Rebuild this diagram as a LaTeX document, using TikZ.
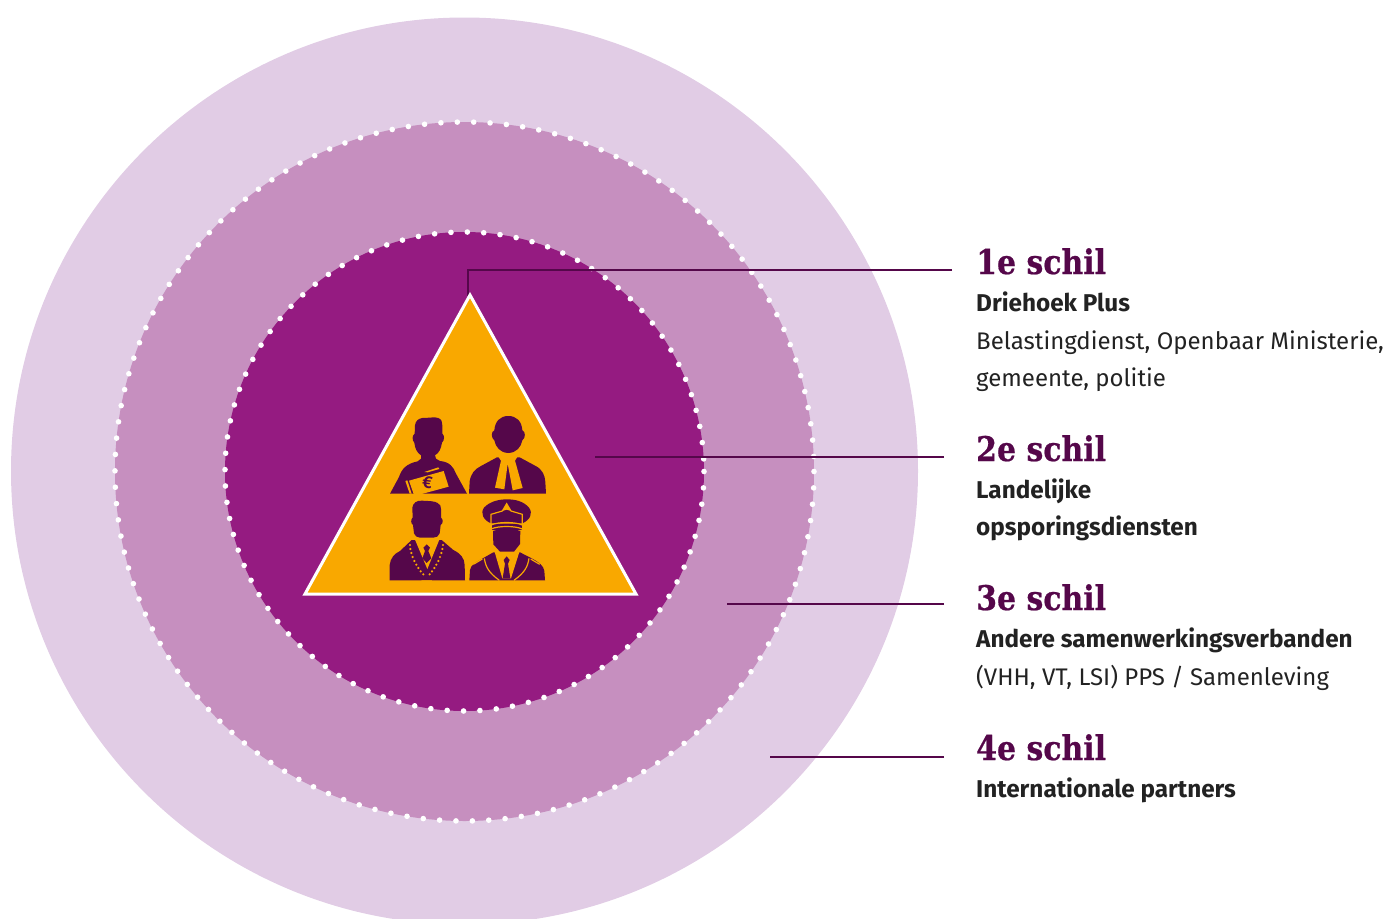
\documentclass[tikz,border=0pt]{standalone}
\usepackage{fontspec}
\setmainfont{Fira Sans}
\newfontfamily\titlefont[FakeStretch=0.88,BoldFont={DejaVu Serif Bold},BoldFeatures={FakeStretch=0.88,FakeBold=0.6}]{DejaVu Serif}
\definecolor{shellA}{HTML}{951B81}
\definecolor{shellB}{HTML}{C68FBF}
\definecolor{shellC}{HTML}{E1CCE5}
\definecolor{tri}{HTML}{F9A800}
\definecolor{ink}{HTML}{55074A}
\definecolor{bodytxt}{HTML}{222222}
\tikzset{
  shelltitle/.style={anchor=base west,inner sep=0pt,text=ink,font=\titlefont\bfseries\fontsize{34}{34}\selectfont},
  strong/.style={anchor=base west,inner sep=0pt,text=bodytxt,font=\fontsize{24.3}{24.3}\selectfont\bfseries},
  plain/.style={anchor=base west,inner sep=0pt,text=bodytxt,font=\fontsize{24}{24}\selectfont},
  leader/.style={draw=ink,line width=1.8pt},
  dotring/.style={draw=white,line width=5.6pt,line cap=round,dash pattern=on 0pt off 16.4pt},
  crop/.style={x=0.33333pt,y=-0.33333pt},
  trim/.style={draw=tri,line width=1.2pt},
}
\begin{document}
\begin{tikzpicture}[x=1pt,y=-1pt]
\useasboundingbox (0,0) rectangle (1386,918);
\begin{scope}
\clip (0,0) rectangle (1386,918);
\fill[shellC] (464.5,471) circle[radius=453.5];
\end{scope}
\fill[shellB] (464.5,471.5) circle[radius=349.5];
\draw[dotring] (464.5,471.5) circle[radius=349.5];
\fill[shellA] (464.5,471.5) circle[radius=239.5];
\draw[dotring] (464.5,471.5) circle[radius=239.5];
\node[shelltitle] (t1) at (976,274) {1e schil};
\node[strong] (s1) at (976,311) {Driehoek Plus};
\node[plain] (p1a) at (976,349) {Belastingdienst, Openbaar Ministerie,};
\node[plain] (p1b) at (976,386) {gemeente, politie};
\node[shelltitle] (t2) at (976,461) {2e schil};
\node[strong] (s2a) at (976,498) {Landelijke};
\node[strong] (s2b) at (976,535) {opsporingsdiensten};
\node[shelltitle] (t3) at (976,610) {3e schil};
\node[strong] (s3) at (976,647) {Andere samenwerkingsverbanden};
\node[plain] (p3) at (976,685) {(VHH, VT, LSI) PPS / Samenleving};
\node[shelltitle] (t4) at (976,760) {4e schil};
\node[strong] (s4) at (976,797) {Internationale partners};
\coordinate (a1) at (952,270);
\coordinate (b1) at (468,270);
\coordinate (c1) at (468,296);
\coordinate (a2) at (944,457);
\coordinate (b2) at (595,457);
\coordinate (a3) at (944,604);
\coordinate (b3) at (727,604);
\coordinate (a4) at (944,757);
\coordinate (b4) at (770,757);
\draw[leader] (a1) -- (b1) -- (c1);
\draw[leader] (a2) -- (b2);
\draw[leader] (a3) -- (b3);
\draw[leader] (a4) -- (b4);
\draw[fill=tri,draw=white,line width=3pt,line join=miter] (470,295) -- (636,594) -- (305,594) -- cycle;
% euro man
\begin{scope}[shift={(385,412)},crop]
\fill[ink] (90,40) .. controls (92,26) and (100,20) .. (112,18) .. controls (130,18) and (150,14) .. (160,18) .. controls (170,22) and (172,30) .. (172,40) -- (172,65) .. controls (179,70) and (179,84) .. (171,92) .. controls (168,110) and (163,122) .. (150,130) -- (153,140) -- (165,147) .. controls (195,150) and (205,165) .. (213,185) -- (246,245) -- (15,245) -- (42,195) .. controls (50,170) and (65,155) .. (98,148) -- (108,140) -- (108,130) .. controls (96,122) and (90,110) .. (88,92) .. controls (81,85) and (81,70) .. (89,65) -- cycle;
\fill[tri] (72,206) -- (176,177) -- (191,224) -- (88,252) -- cycle;
\fill[tri] (118,180) -- (160,166) -- (163,171) -- (128,181) -- cycle;
\fill[tri] (61,207) -- (67,205) -- (80,245) -- (74,245) -- cycle;
\fill[tri] (88,246) -- (120,246) -- (100,252) -- (88,252) -- cycle;
\node[inner sep=0pt,text=ink,rotate=-8,font=\fontsize{17}{17}\selectfont\bfseries] (euro) at (127,211) {€};
\end{scope}
% judge
\begin{scope}[shift={(465,412)},crop]
\fill[ink] (12,245) -- (14,208) .. controls (18,185) and (28,172) .. (48,162) -- (96,136) -- (164,136) -- (212,162) .. controls (232,172) and (240,190) .. (241,210) -- (243,245) -- cycle;
\fill[tri] (95,114) -- (160,114) -- (165,122) -- (150,146) -- (173,228) -- (143,235) -- (128,155) -- (118,232) -- (90,227) -- (108,146) -- (92,122) -- cycle;
\fill[ink] (88,55) .. controls (90,28) and (105,12) .. (130,12) .. controls (155,12) and (170,28) .. (172,55) .. controls (182,58) and (182,78) .. (172,85) .. controls (168,105) and (155,122) .. (130,123) .. controls (105,122) and (92,105) .. (88,85) .. controls (78,78) and (78,58) .. (88,55) -- cycle;
\end{scope}
% mayor
\begin{scope}[shift={(385,495)},crop]
\fill[ink] (82,38) .. controls (84,24) and (95,16) .. (110,17) .. controls (130,18) and (150,18) .. (158,24) .. controls (166,28) and (168,34) .. (168,42) -- (168,68) .. controls (175,72) and (175,86) .. (167,90) -- (164,115) .. controls (160,124) and (155,128) .. (145,128) -- (105,128) .. controls (95,128) and (90,122) .. (87,115) -- (84,90) .. controls (77,86) and (77,72) .. (83,68) -- cycle;
\fill[ink] (14,256) -- (14,210) .. controls (16,190) and (28,176) .. (45,168) -- (80,135) -- (170,135) -- (205,165) .. controls (228,176) and (238,190) .. (239,210) -- (240,256) -- cycle;
\fill[tri] (90,134) -- (163,134) -- (127,222) -- cycle;
\fill[ink] (125,148) -- (135,158) -- (130,168) -- (139,190) -- (125,204) -- (112,190) -- (120,168) -- (115,158) -- cycle;
\foreach \p in {(75,150),(76,162),(79,174),(83,186),(88,198),(94,209),(100,219),(107,229),(115,238),
                (174,150),(172,162),(169,174),(165,186),(160,198),(154,209),(148,219),(141,229),(134,238)}{
  \fill[tri] \p circle[radius=3.6];
}
\fill[tri] (109,256) arc[start angle=180,end angle=0,radius=16] -- cycle;
\end{scope}
% officer
\begin{scope}[shift={(465,495)},crop]
\fill[ink] (78,85) .. controls (55,75) and (45,55) .. (57,38) .. controls (75,18) and (105,13) .. (125,13) .. controls (150,13) and (175,18) .. (192,38) .. controls (205,55) and (195,75) .. (172,85) -- cycle;
\fill[ink] (80,88) -- (170,88) -- (170,104) -- (80,104) -- cycle;
\fill[ink] (84,108) .. controls (105,100) and (145,100) .. (166,108) -- (165,147) -- (147,170) -- (105,170) -- (85,148) -- cycle;
\fill[ink] (13,256) -- (15,225) .. controls (18,210) and (30,203) .. (50,192) -- (85,172) -- (165,172) -- (200,190) .. controls (222,202) and (236,212) .. (238,228) -- (240,256) -- cycle;
\draw[trim,line join=miter] (78,88) -- (78,58) -- (112,48) -- (125,26) -- (138,48) -- (172,58) -- (172,88);
\fill[tri] (112,48) -- (125,26) -- (138,48) -- (125,44) -- cycle;
\draw[trim] (78,90) .. controls (100,80) and (150,80) .. (172,90);
\draw[trim] (78,102) .. controls (100,92) and (150,92) .. (172,102);
\fill[tri] (89,171) -- (163,171) -- (138,250) -- (112,250) -- cycle;
\fill[ink] (125,184) -- (134,195) -- (129,206) -- (136,250) -- (113,250) -- (120,206) -- (116,195) -- cycle;
\draw[trim] (58,190) .. controls (62,215) and (70,232) .. (103,256);
\draw[trim] (192,190) .. controls (188,215) and (180,232) .. (147,256);
\draw[trim] (25,208) -- (52,192);
\draw[trim] (197,192) -- (224,208);
\end{scope}
\end{tikzpicture}
\end{document}
